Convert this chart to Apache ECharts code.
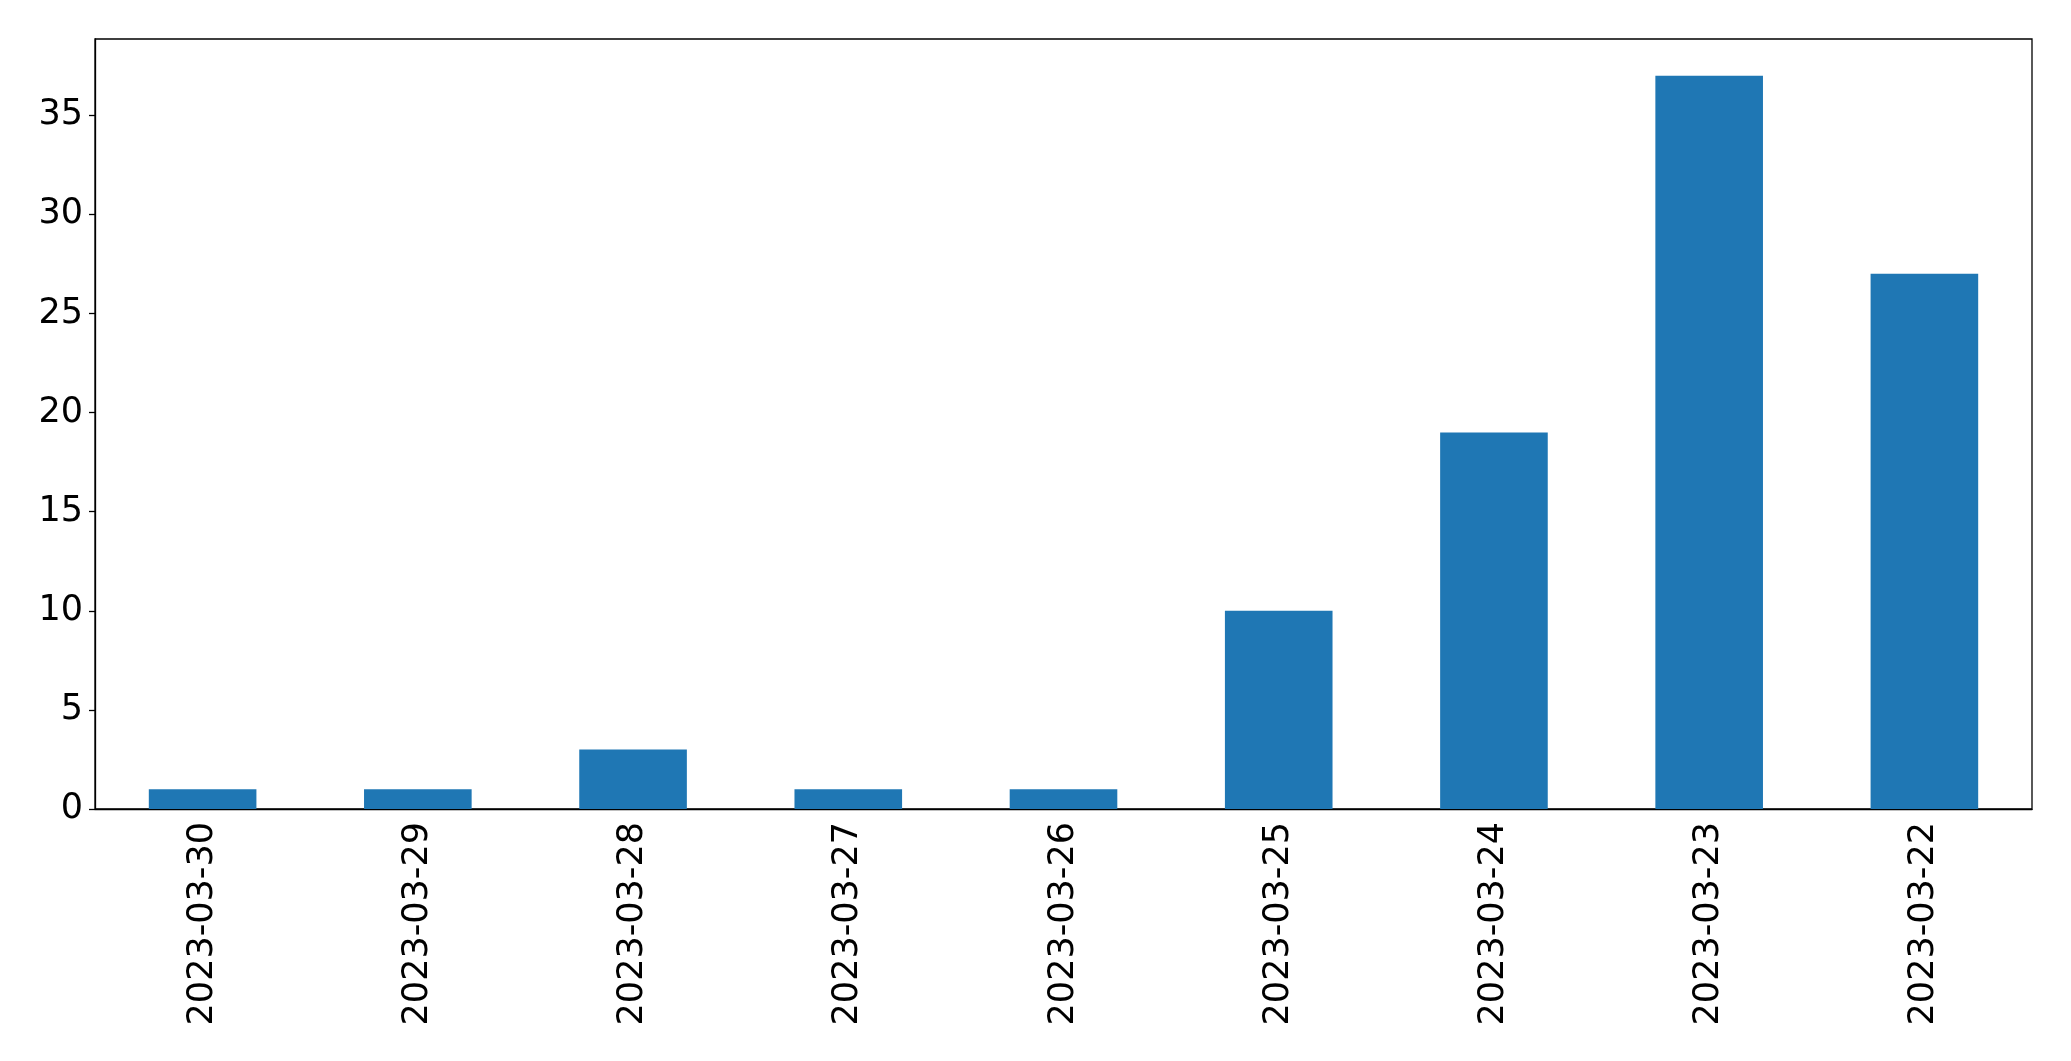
<!DOCTYPE html>
<html>
<head>
<meta charset="utf-8">
<script src="https://cdn.jsdelivr.net/npm/echarts@6/dist/echarts.min.js"></script>
<style>
  html, body { margin: 0; padding: 0; background: #fff; }
  #main { width: 2071px; height: 1061px; }
</style>
</head>
<body>
<div id="main"></div>
<script>
  var dates = ["2023-03-30", "2023-03-29", "2023-03-28", "2023-03-27", "2023-03-26",
               "2023-03-25", "2023-03-24", "2023-03-23", "2023-03-22"];
  var counts = [1, 1, 3, 1, 1, 10, 19, 37, 27];
  var yTicks = [0, 5, 10, 15, 20, 25, 30, 35];

  var chart = echarts.init(document.getElementById("main"));
  chart.setOption({
    animation: false,
    grid: {
      left: 95, right: 39, top: 39, bottom: 252,
      show: true,
      borderColor: "#000",
      borderWidth: 1.3,
      backgroundColor: "transparent"
    },
    xAxis: {
      type: "category",
      data: dates,
      boundaryGap: true,
      axisLine: { lineStyle: { color: "#000", width: 1.3 } },
      axisTick: { alignWithLabel: true, length: 6, lineStyle: { color: "#000", width: 1.3 } },
      axisLabel: {
        rotate: 90,
        margin: 13,
        color: "#000",
        fontSize: 35,
        fontFamily: "DejaVu Sans",
        interval: 0
      }
    },
    yAxis: {
      type: "value",
      min: 0,
      max: 38.85,
      interval: 5,
      splitLine: { show: false },
      axisLine: { show: true, lineStyle: { color: "#000", width: 1.3 } },
      axisTick: { show: true, length: 6, lineStyle: { color: "#000", width: 1.3 } },
      axisLabel: {
        margin: 12,
        color: "#000",
        fontSize: 35,
        fontFamily: "DejaVu Sans",
        showMaxLabel: false,
        formatter: function (v) { return yTicks.indexOf(v) >= 0 ? String(v) : ""; }
      }
    },
    series: [{
      type: "bar",
      data: counts,
      barWidth: "50%",
      itemStyle: { color: "#1f77b4" }
    }]
  });
</script>
</body>
</html>
